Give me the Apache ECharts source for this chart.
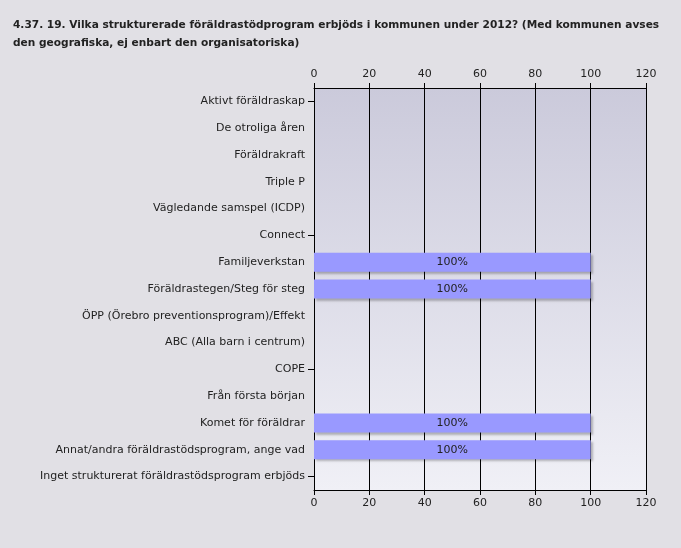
<!DOCTYPE html><html><head><meta charset="utf-8"><script src="https://cdn.jsdelivr.net/npm/echarts@6/dist/echarts.min.js"></script>
<style>body{margin:0;background:#e1e0e5}#c{width:681px;height:548px}</style></head><body><div id="c"></div><script>
const categories=["Aktivt föräldraskap","De otroliga åren","Föräldrakraft","Triple P","Vägledande samspel (ICDP)","Connect","Familjeverkstan","Föräldrastegen/Steg för steg","ÖPP (Örebro preventionsprogram)/Effekt","ABC (Alla barn i centrum)","COPE","Från första början","Komet för föräldrar","Annat/andra föräldrastödsprogram, ange vad","Inget strukturerat föräldrastödsprogram erbjöds"];
const values=[null,null,null,null,null,null,100,100,null,null,null,null,100,100,null];
const xTicks=[0,20,40,60,80,100,120];
const font='Verdana, "DejaVu Sans", sans-serif';
const ch=echarts.init(document.getElementById('c'));
const xa=(pos)=>({type:'value',position:pos,min:xTicks[0],max:xTicks[xTicks.length-1],interval:20,
 axisLine:{show:true,lineStyle:{color:'#000'}},axisTick:{show:true,length:5,lineStyle:{color:'#000'}},
 axisLabel:{color:'#222',fontFamily:font,fontSize:11,margin:8},splitLine:{show:pos==='top',lineStyle:{color:'#000',width:1}}});
ch.setOption({animation:false,backgroundColor:'#e1e0e5',
 title:{text:'4.37. 19. Vilka strukturerade föräldrastödprogram erbjöds i kommunen under 2012? (Med kommunen avses\nden geografiska, ej enbart den organisatoriska)',left:8,top:11,textStyle:{fontFamily:font,fontSize:10.6,fontWeight:'bold',color:'#222',lineHeight:18}},
 grid:{left:314,right:35,top:88,bottom:58,show:true,borderWidth:0,
  backgroundColor:new echarts.graphic.LinearGradient(0,0,0,1,[{offset:0,color:'#cbcadb'},{offset:1,color:'#f0f0f6'}])},
 xAxis:[xa('top'),xa('bottom')],
 yAxis:{type:'category',inverse:true,data:categories,axisLine:{show:true,onZero:false,lineStyle:{color:'#000'}},
  axisTick:{show:true,length:6,interval:4,alignWithLabel:true,lineStyle:{color:'#000'}},
  axisLabel:{color:'#222',fontFamily:font,fontSize:11,margin:9,interval:0}},
 series:[{type:'bar',data:values,barWidth:19,itemStyle:{color:'#9999ff',shadowColor:'rgba(0,0,0,0.25)',shadowOffsetX:2,shadowOffsetY:2,shadowBlur:2},
  label:{show:true,position:'inside',formatter:'{c}%',color:'#222',fontFamily:font,fontSize:11}}]});
</script></body></html>
